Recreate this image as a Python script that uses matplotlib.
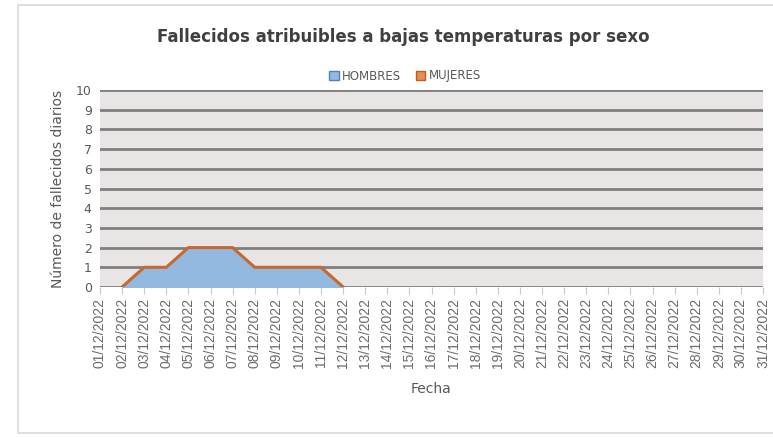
import numpy as np
import matplotlib.pyplot as plt
from matplotlib.patches import Patch, Rectangle

fechas = [f"{d:02d}/12/2022" for d in range(1, 32)]
hombres = [np.nan, 0, 1, 1, 2, 2, 2, 1, 1, 1, 1, 0] + [np.nan] * 19
mujeres = [np.nan, 0, 1, 1, 2, 2, 2, 1, 1, 1, 1, 0] + [np.nan] * 19

fig = plt.figure(figsize=(7.73, 4.37), dpi=100)
fig.patches.append(Rectangle((18 / 773, 4 / 437), 760 / 773, 428 / 437,
                             transform=fig.transFigure, fill=False,
                             edgecolor="#d9d9d9", linewidth=1.2))
ax = fig.add_axes([100 / 773, 1 - 287 / 437, 663 / 773, 197 / 437])
ax.set_facecolor("#e9e5e5")

x = np.arange(len(fechas))
h = np.array(hombres, dtype=float)
m = np.array(mujeres, dtype=float)
ok = ~np.isnan(h)
ax.fill_between(x[ok], 0, h[ok], color="#93b9e0", zorder=3)
ok = ~np.isnan(m)
ax.plot(x[ok], m[ok], color="#c8672e", lw=2.2, zorder=4)

ax.set_ylim(0, 10)
ax.set_xlim(0, len(fechas) - 1)
ax.set_yticks(range(0, 11))
ax.set_xticks(x)
ax.set_xticklabels(fechas, rotation=90, fontsize=10, color="#6b6b6b",
                   family="Liberation Sans")
ax.tick_params(axis="y", length=0, labelsize=9, labelcolor="#595959", pad=6)
ax.tick_params(axis="x", length=5, color="#c8c8c8", pad=3)
ax.grid(axis="y", color="#7f7f7f", lw=2, zorder=1)
for s in ax.spines.values():
    s.set_visible(False)

ax.set_ylabel("Número de fallecidos diarios", fontsize=10, color="#595959", labelpad=8)
ax.set_xlabel("Fecha", fontsize=10, color="#595959", labelpad=10)
fig.text(403 / 773, 1 - 37 / 437, "Fallecidos atribuibles a bajas temperaturas por sexo",
         ha="center", va="center", fontsize=12, fontweight="bold", color="#404040")

handles = [Patch(facecolor="#93b9e0", edgecolor="#4f81bd", label="HOMBRES"),
           Patch(facecolor="#e0915a", edgecolor="#c55a11", label="MUJERES")]
fig.legend(handles=handles, loc="center", bbox_to_anchor=(405 / 773, 1 - 76 / 437),
           ncol=2, frameon=False, fontsize=8.5, labelcolor="#595959",
           handlelength=0.8, handleheight=0.8, handletextpad=0.3, columnspacing=1.2)

plt.savefig("out.png", dpi=100)
